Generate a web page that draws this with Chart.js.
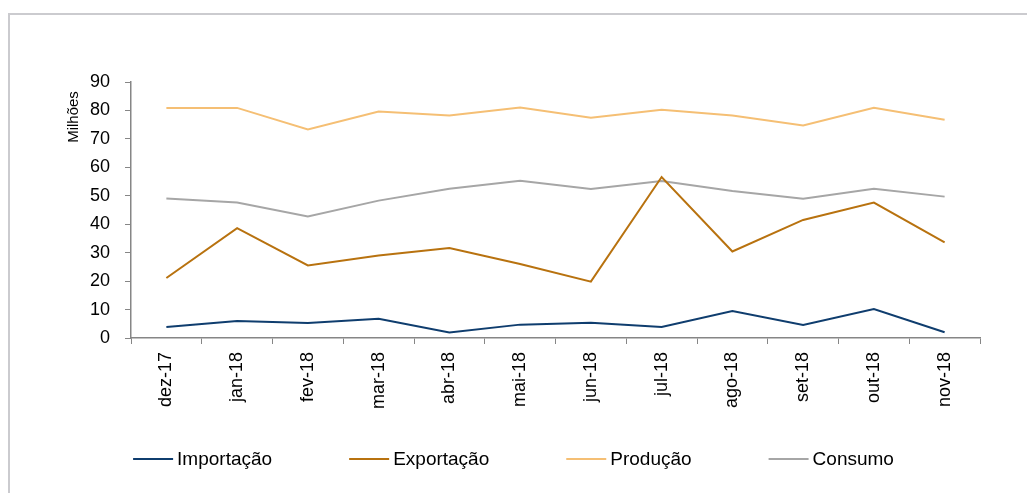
<!DOCTYPE html>
<html>
<head>
<meta charset="utf-8">
<script src="https://cdn.jsdelivr.net/npm/chart.js@4/dist/chart.umd.min.js"></script>
<style>
  html, body { margin: 0; padding: 0; background: #fff; overflow: hidden; }
  #frame {
    position: absolute; left: 8px; top: 13px; width: 1100px; height: 600px;
    border-left: 2px solid #cbcbcf; border-top: 2px solid #cbcbcf;
  }
  #myChart { position: absolute; left: 0; top: 0; }
</style>
</head>
<body>
<div id="frame"></div>
<canvas id="myChart" width="1027" height="493"></canvas>
<script>
// months, dez/2017 to nov/2018
const meses = ['dez-17','jan-18','fev-18','mar-18','abr-18','mai-18','jun-18','jul-18','ago-18','set-18','out-18','nov-18'];

// values in millions
const importacao = [3.9, 6.0, 5.3, 6.8, 1.9, 4.7, 5.4, 3.9, 9.5, 4.6, 10.2, 2.0];
const exportacao = [21.1, 38.6, 25.5, 29.0, 31.6, 26.0, 19.8, 56.6, 30.4, 41.5, 47.6, 33.6];
const producao   = [80.9, 80.9, 73.3, 79.6, 78.2, 81.0, 77.4, 80.2, 78.2, 74.7, 80.9, 76.7];
const consumo    = [49.0, 47.6, 42.7, 48.3, 52.5, 55.3, 52.4, 55.2, 51.7, 49.0, 52.5, 49.7];

const yTicks = [0, 10, 20, 30, 40, 50, 60, 70, 80, 90];

const axisGrey = '#868686';
const font = 'Liberation Sans, Arial, sans-serif';

function serie(label, data, color) {
	return {
		label: label,
		data: data,
		borderColor: color,
		backgroundColor: color,
		borderWidth: 2,
		pointRadius: 0,
		tension: 0,
		fill: false
	};
}

// rotated unit label next to the y axis
const yUnit = {
	id: 'yUnit',
	afterDraw(chart) {
		const ctx = chart.ctx;
		ctx.save();
		ctx.translate(74, 117);
		ctx.rotate(-Math.PI / 2);
		ctx.font = '15px ' + font;
		ctx.fillStyle = '#000';
		ctx.textAlign = 'center';
		ctx.textBaseline = 'middle';
		ctx.fillText('Milhões', 0, 0);
		ctx.restore();
	}
};

// bottom legend: short line + name, wide gaps between entries
const lineLegend = {
	id: 'lineLegend',
	afterDraw(chart) {
		const ctx = chart.ctx;
		const sets = chart.data.datasets;
		const lineW = 40, gap = 4, spacing = 77, y = 459;
		ctx.save();
		ctx.font = '19px ' + font;
		const widths = sets.map(d => lineW + gap + ctx.measureText(d.label).width);
		const total = widths.reduce((a, b) => a + b, 0) + spacing * (sets.length - 1);
		let x = chart.width / 2 - total / 2;
		sets.forEach((d, i) => {
			ctx.strokeStyle = d.borderColor;
			ctx.lineWidth = d.borderWidth;
			ctx.beginPath();
			ctx.moveTo(x, y);
			ctx.lineTo(x + lineW, y);
			ctx.stroke();
			ctx.fillStyle = '#000';
			ctx.textAlign = 'left';
			ctx.textBaseline = 'middle';
			ctx.fillText(d.label, x + lineW + gap, y + 1);
			x += widths[i] + spacing;
		});
		ctx.restore();
	}
};

const config = {
	type: 'line',
	data: {
		labels: meses,
		datasets: [
			serie('Importação', importacao, '#0f3d6e'),
			serie('Exportação', exportacao, '#b8720f'),
			serie('Produção', producao, '#f5bf74'),
			serie('Consumo', consumo, '#a6a6a6')
		]
	},
	options: {
		responsive: false,
		animation: false,
		layout: { padding: { top: 82, left: 0, right: 47, bottom: 80 } },
		plugins: {
			tooltip: { enabled: false },
			legend: { display: false }
		},
		scales: {
			x: {
				offset: true,
				grid: {
					offset: true,
					drawOnChartArea: false,
					drawTicks: true,
					tickLength: 6,
					color: axisGrey
				},
				border: { color: axisGrey, width: 1.5 },
				ticks: {
					minRotation: 90,
					maxRotation: 90,
					autoSkip: false,
					padding: 8,
					color: '#000',
					font: { family: font, size: 18 }
				},
				afterFit(scale) { scale.height = 75; }
			},
			y: {
				min: 0,
				max: 90,
				afterBuildTicks(scale) { scale.ticks = yTicks.map(v => ({ value: v })); },
				grid: {
					drawOnChartArea: false,
					drawTicks: true,
					tickLength: 6,
					color: axisGrey
				},
				border: { color: axisGrey, width: 1.5 },
				ticks: {
					padding: 15,
					color: '#000',
					font: { family: font, size: 18 }
				},
				afterFit(scale) { scale.width = 131; }
			}
		}
	},
	plugins: [yUnit, lineLegend]
};

const myChart = new Chart(document.getElementById('myChart'), config);
</script>
</body>
</html>
